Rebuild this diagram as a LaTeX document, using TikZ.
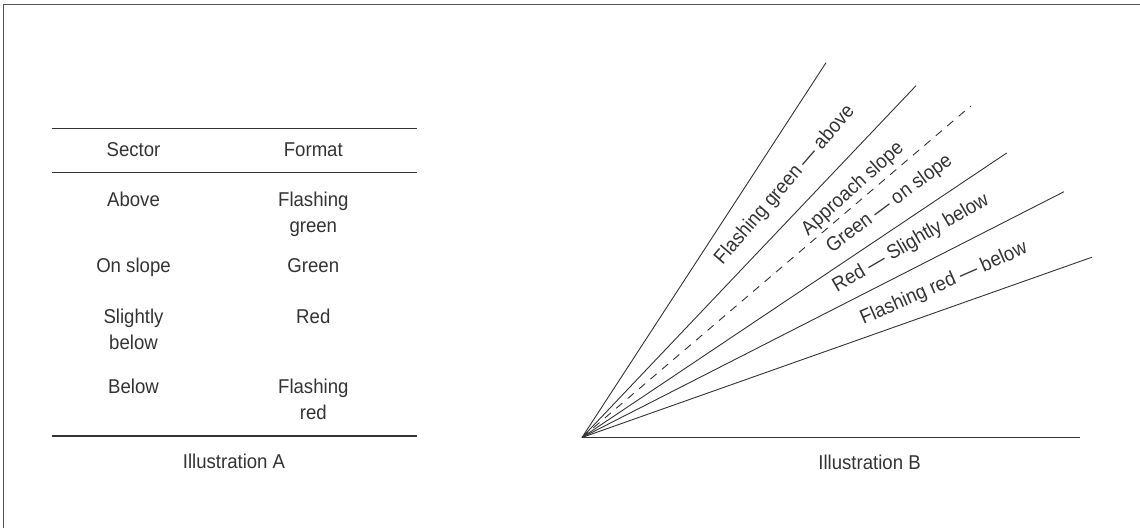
\documentclass[tikz,border=0pt]{standalone}
\usepackage{fontspec}
\setmainfont{Liberation Sans}[FakeStretch=0.93]
\usepackage{xcolor}
\usetikzlibrary{calc}
\definecolor{ink}{HTML}{333333}
\definecolor{frameg}{HTML}{555555}
\tikzset{
  cell/.style     = {anchor=base, inner sep=0pt, align=center, text=ink,
                     font=\fontsize{20}{26.3}\selectfont},
  caption/.style  = {anchor=base, inner sep=0pt, text=ink,
                     font=\fontsize{20}{24}\selectfont},
  fanlabel/.style = {inner sep=0pt, text=ink, font=\fontsize{20}{24}\selectfont},
  rule/.style     = {draw=ink, line width=1.1pt},
  ray/.style      = {draw=ink, line width=0.9pt},
  slopeline/.style = {ray, dash pattern=on 8pt off 7pt},
}

\begin{document}
\begin{tikzpicture}[x=1pt, y=1pt]
    \useasboundingbox (0,0) rectangle (1140,528);

    %% Frame (top and left edges only)
    \draw[frameg, line width=1.5pt] (3.3,0) -- (3.3,523.3) -- (1140,523.3);

    %% Illustration A: table
    \draw[rule] (51.7,399.7) -- (417.3,399.7);
    \draw[rule] (51.7,355.3) -- (417.3,355.3);
    \draw[rule] (51.7,92)    -- (417.3,92);

    \node[cell] (hsec) at (133.5,371.3) {Sector};
    \node[cell] (hfmt) at (313.3,371.3) {Format};

    %% two-line cells are placed by the baseline of their last line
    \node[cell] (sab)  at (133.5,321.3) {Above};
    \node[cell] (fab)  at (313.3,295)   {Flashing\\green};
    \node[cell] (son)  at (133.5,255.3) {On slope};
    \node[cell] (fon)  at (313.3,255.3) {Green};
    \node[cell] (ssl)  at (133.5,178.4) {Slightly\\below};
    \node[cell] (fsl)  at (313.3,204.7) {Red};
    \node[cell] (sbe)  at (133.5,134.7) {Below};
    \node[cell] (fbe)  at (313.3,108.4) {Flashing\\red};

    \node[caption] (capA) at (234,60) {Illustration A};

    %% Illustration B: light sectors
    \coordinate (apex) at (582,90.5);
    \foreach \n/\x/\y in {lim1/826/465.3, lim2/916/442.3, slope/970.7/422,
                          lim3/1006.7/375, lim4/1064/336.3, lim5/1091.7/270.7,
                          ground/1080/90.5}
      \coordinate (\n) at (\x,\y);

    \foreach \n in {lim1,lim2,lim3,lim4,lim5,ground}
      \draw[ray] (apex) -- (\n);
    \draw[slopeline] (apex) -- (slope);

    \node[fanlabel, rotate=49.2] (lblab) at (785,343)   {Flashing green — above};
    \node[fanlabel, rotate=42]   (lblap) at (853,339)   {Approach slope};
    \node[fanlabel, rotate=36.6] (lblon) at (889.5,324) {Green — on slope};
    \node[fanlabel, rotate=30.2] (lblsl) at (911,284.7) {Red — Slightly below};
    \node[fanlabel, rotate=23.7] (lblbe) at (944,244)   {Flashing red — below};

    \node[caption] (capB) at (869.5,59) {Illustration B};

\end{tikzpicture}
\end{document}
